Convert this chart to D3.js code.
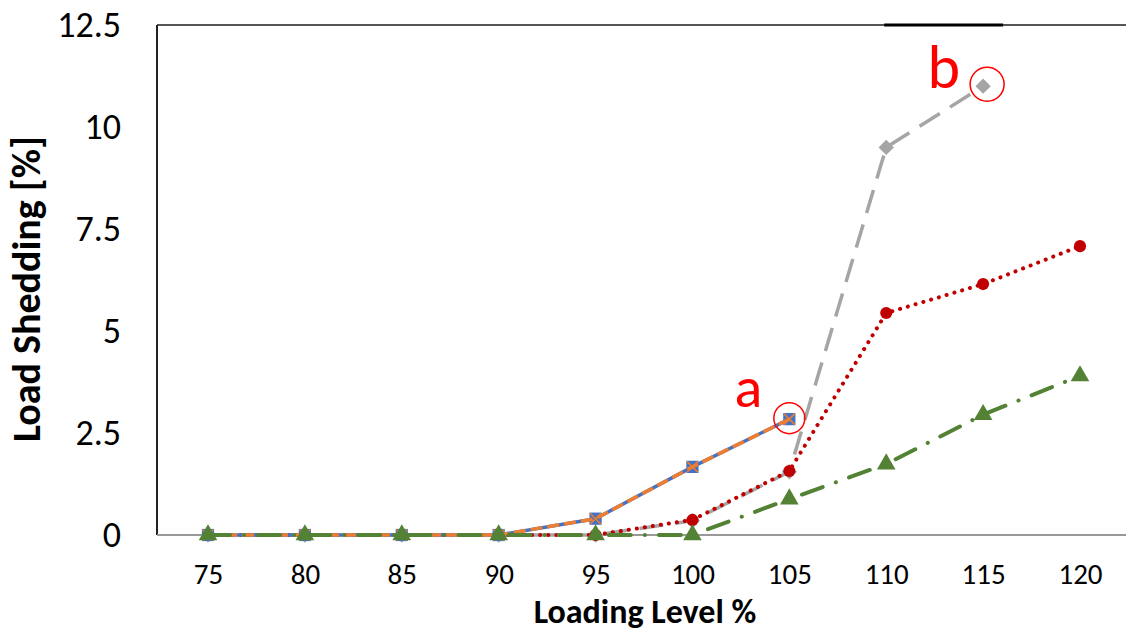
<!DOCTYPE html>
<html>
<head>
<meta charset="utf-8">
<script src="https://cdn.jsdelivr.net/npm/d3@7"></script>
<style>
  html, body { margin: 0; padding: 0; background: #fff; }
  svg { display: block; }
  .tick text { fill: #000; }
</style>
</head>
<body>
<div id="chart"></div>
<script>
// x categories (loading level %)
const levels = ['75', '80', '85', '90', '95', '100', '105', '110', '115', '120'];
const yTicks = [0, 2.5, 5, 7.5, 10, 12.5];

// series values (null = no point)
const blueSquares = [0, 0, 0, 0, 0.4, 1.67, 2.84, null, null, null];
const orangeCross = [0, 0, 0, 0, 0.4, 1.67, 2.84, null, null, null];
const grayDiamond = [0, 0, 0, 0, 0, 0.35, 1.55, 9.5, 11.0, null];
const redCircle   = [0, 0, 0, 0, 0, 0.37, 1.57, 5.44, 6.15, 7.08];
const greenTri    = [0, 0, 0, 0, 0, 0, 0.88, 1.74, 2.95, 3.9];

// annotations: label and the circled point
const noteLabels = ['a', 'b'];
const noteLevels = ['105', '115'];
const noteValues = [2.84, 11.0];
// label offsets from the circled point (layout only)
const noteOffsets = [[-27, -12], [-23, 2]];

const W = 1126, H = 635;
const font = "Carlito, 'Liberation Sans Narrow', 'Liberation Sans', 'Noto Sans', sans-serif";

const svg = d3.select('#chart').append('svg')
  .attr('width', W).attr('height', H);

const x = d3.scalePoint().domain(levels).range([208, 1080]);
const y = d3.scaleLinear().domain([0, 12.5]).range([535, 25]);

const plotLeft = 157, plotRight = 1126;

// frame: top border, left border, bottom axis
svg.append('line')
  .attr('x1', plotLeft).attr('x2', plotRight)
  .attr('y1', y(12.5)).attr('y2', y(12.5))
  .attr('stroke', '#555').attr('stroke-width', 2);
svg.append('line')
  .attr('x1', x('110') - 2).attr('x2', x('115') + 20)
  .attr('y1', y(12.5)).attr('y2', y(12.5))
  .attr('stroke', '#000').attr('stroke-width', 3);
svg.append('line')
  .attr('x1', plotLeft).attr('x2', plotLeft)
  .attr('y1', y(12.5)).attr('y2', y(0))
  .attr('stroke', '#222').attr('stroke-width', 2);
svg.append('line')
  .attr('x1', plotLeft).attr('x2', plotRight)
  .attr('y1', y(0)).attr('y2', y(0))
  .attr('stroke', '#999').attr('stroke-width', 2);

// y axis
const yAxis = d3.axisLeft(y).tickValues(yTicks).tickSize(0).tickPadding(0)
  .tickFormat(d => String(d));
const yAxisG = svg.append('g')
  .attr('transform', 'translate(121,0)')
  .call(yAxis);
yAxisG.select('.domain').remove();
yAxisG.selectAll('text')
  .attr('font-family', font).attr('font-size', 36);

// x axis
const xAxis = d3.axisBottom(x).tickSize(0).tickPadding(0);
const xAxisG = svg.append('g')
  .attr('transform', 'translate(0,563)')
  .call(xAxis);
xAxisG.select('.domain').remove();
xAxisG.selectAll('text')
  .attr('font-family', font).attr('font-size', 29);

// axis titles
svg.append('text')
  .attr('transform', `translate(40,289) rotate(-90)`)
  .attr('text-anchor', 'middle')
  .attr('font-family', font).attr('font-weight', 'bold').attr('font-size', 40)
  .text('Load Shedding [%]');
svg.append('text')
  .attr('x', 645).attr('y', 623)
  .attr('text-anchor', 'middle')
  .attr('font-family', font).attr('font-weight', 'bold').attr('font-size', 34)
  .text('Loading Level %');

function toPoints(values) {
  return levels.map((l, i) => ({ level: l, value: values[i] }))
    .filter(d => d.value !== null);
}

const line = d3.line()
  .x(d => x(d.level))
  .y(d => y(d.value));

function drawLine(values, color, width, dash, cap) {
  svg.append('path')
    .datum(toPoints(values))
    .attr('fill', 'none')
    .attr('stroke', color)
    .attr('stroke-width', width)
    .attr('stroke-dasharray', dash)
    .attr('stroke-linecap', cap || 'butt')
    .attr('stroke-linejoin', 'round')
    .attr('d', line);
}

function drawMarkers(values, type, size, color) {
  svg.append('g').selectAll('path')
    .data(toPoints(values))
    .join('path')
    .attr('transform', d => `translate(${x(d.level)},${y(d.value)})`)
    .attr('d', d3.symbol().type(type).size(size))
    .attr('fill', color);
}

// gray dashed with diamonds
drawLine(grayDiamond, '#a5a5a5', 3.5, '24,12');
drawMarkers(grayDiamond, d3.symbolDiamond2, 150, '#a5a5a5');

// red dotted with circles
drawLine(redCircle, '#c00000', 4, '0.1,8', 'round');
drawMarkers(redCircle, d3.symbolCircle, 115, '#c00000');

// blue solid with squares, orange dashed with crosses on top
drawLine(blueSquares, '#4472c4', 3.5, null);
drawMarkers(blueSquares, d3.symbolSquare, 150, '#4472c4');
drawLine(orangeCross, '#ed7d31', 3.5, '12,5');
svg.append('g').selectAll('path')
  .data(toPoints(orangeCross))
  .join('path')
  .attr('transform', d => `translate(${x(d.level)},${y(d.value)})`)
  .attr('d', d3.symbol().type(d3.symbolX).size(80))
  .attr('fill', 'none')
  .attr('stroke', '#ed7d31')
  .attr('stroke-width', 1.5);

// green dash-dot with triangles
drawLine(greenTri, '#548235', 4, '22,14,0.1,14', 'round');
drawMarkers(greenTri, d3.symbolTriangle, 150, '#548235');

// annotations
const noteG = svg.append('g').selectAll('g')
  .data(noteLabels.map((l, i) => ({ label: l, level: noteLevels[i], value: noteValues[i], off: noteOffsets[i] })))
  .join('g')
  .attr('transform', d => `translate(${x(d.level)},${y(d.value)})`);
noteG.append('circle')
  .attr('cx', (d, i) => i === 1 ? 4 : 0)
  .attr('cy', (d, i) => i === 1 ? -2 : -1)
  .attr('r', (d, i) => i === 1 ? 17 : 15.5)
  .attr('fill', 'none')
  .attr('stroke', '#ff0000')
  .attr('stroke-width', 1.5);
noteG.append('text')
  .attr('x', d => d.off[0])
  .attr('y', d => d.off[1])
  .attr('text-anchor', 'end')
  .attr('font-family', font)
  .attr('font-size', (d, i) => i === 1 ? 62 : 58)
  .attr('fill', '#ff0000')
  .text(d => d.label);
</script>
</body>
</html>
